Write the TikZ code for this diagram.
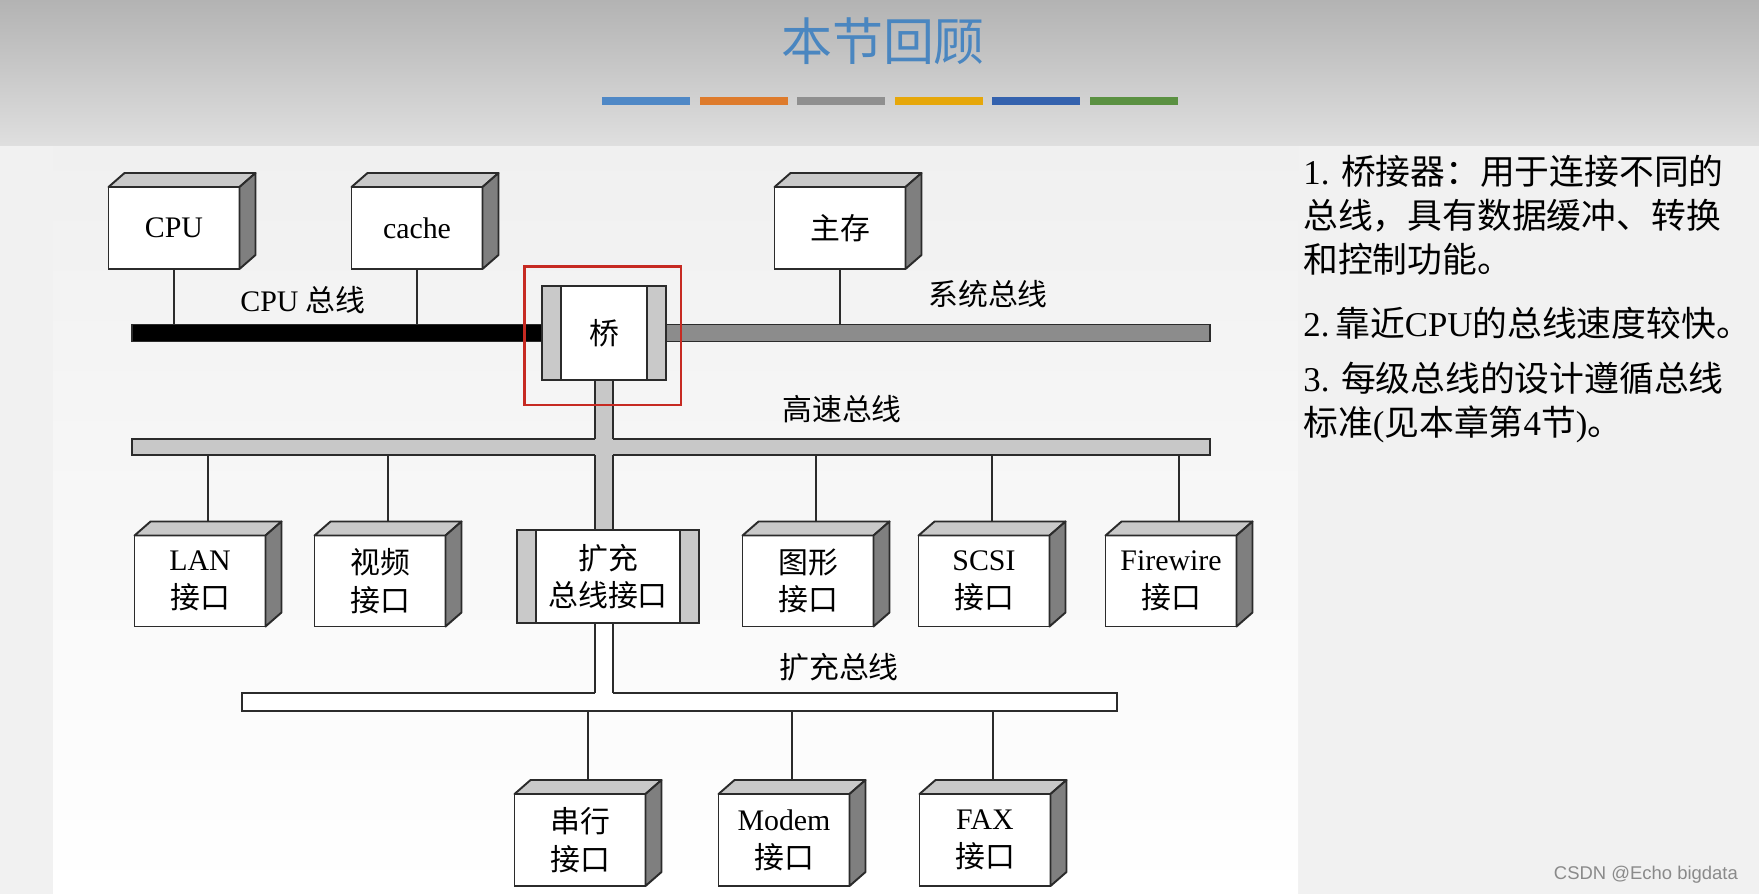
\documentclass[tikz,border=0pt]{standalone}
\usepackage{fontspec}
\setmainfont{Liberation Serif}
\newfontfamily\cjk{Noto Sans CJK SC}
\newfontfamily\wmfont{Liberation Sans}
\usepackage{tikz}
\usetikzlibrary{calc, positioning}

\definecolor{edge}{HTML}{2B2B2B}
\definecolor{topgray}{HTML}{C9C9C9}
\definecolor{sidegray}{HTML}{7F7F7F}
\definecolor{sysgray}{HTML}{8C8C8C}
\definecolor{hsgray}{HTML}{C8C8C8}
\definecolor{framered}{HTML}{C62A22}
\definecolor{titleblue}{HTML}{4A86C0}
\definecolor{bgtop}{HTML}{B3B3B3}
\definecolor{bgmid}{HTML}{DFDFDF}
\definecolor{bglow}{HTML}{F1F1F1}
\definecolor{paneltop}{HTML}{F0F0F0}
\definecolor{wmgray}{HTML}{8A8A8A}
\definecolor{bara}{HTML}{4F88C6}
\definecolor{barb}{HTML}{DE7B2C}
\definecolor{barc}{HTML}{8F8F8F}
\definecolor{bard}{HTML}{E6A70A}
\definecolor{bare}{HTML}{3462AE}
\definecolor{barf}{HTML}{5B9142}

\tikzset{
  devbox/.style={rectangle, draw=edge, line width=1.1pt, fill=white,
    minimum width=2.62cm, minimum height=1.64cm, inner sep=0pt, outer sep=0pt,
    align=center, font=\fontsize{17}{21.5}\selectfont},
  tallbox/.style={devbox, minimum height=1.82cm},
  bridgebox/.style={devbox, minimum width=2.48cm, minimum height=1.88cm},
  bus/.style={rectangle, draw=edge, line width=1.1pt, inner sep=0pt, outer sep=0pt},
  wire/.style={draw=edge, line width=1.1pt},
  buslabel/.style={font=\fontsize{17}{20}\selectfont},
  note/.style={anchor=north west, align=left, inner sep=0pt,
    font=\fontsize{19.8}{25}\selectfont}
}

% top and right face of a box
\newcommand{\boxfaces}[1]{%
  \filldraw[fill=topgray, draw=edge, line width=1.1pt, line join=round]
    (#1.north west) -- ([shift={(16,-14)}]#1.north west)
    -- ([shift={(16,-14)}]#1.north east) -- (#1.north east) -- cycle;
  \filldraw[fill=sidegray, draw=edge, line width=1.1pt, line join=round]
    (#1.north east) -- ([shift={(16,-14)}]#1.north east)
    -- ([shift={(16,-14)}]#1.south east) -- (#1.south east) -- cycle;
}
% gray bands on both sides of a bridge
\newcommand{\sidebands}[1]{%
  \filldraw[fill=topgray, draw=edge, line width=1.1pt]
    (#1.north west) rectangle ([xshift=0.38cm]#1.south west);
  \filldraw[fill=topgray, draw=edge, line width=1.1pt]
    (#1.north east) rectangle ([xshift=-0.38cm]#1.south east);
}

\begin{document}
\begin{tikzpicture}[x=0.02cm, y=-0.02cm]
  \useasboundingbox (0,0) rectangle (1759,894);

  % background
  \shade[top color=bgtop, bottom color=bgmid] (0,0) rectangle (1759,146);
  \fill[bglow] (0,146) rectangle (1759,894);
  \shade[top color=paneltop, bottom color=white] (53,146) rectangle (1298,894);

  \node (title) [font=\cjk\fontsize{29}{32}\selectfont, text=titleblue] at (883,41) {本节回顾};
  \foreach \c [count=\i from 0] in {bara,barb,barc,bard,bare,barf}
    \fill[\c] (602+\i*97.5,97) rectangle +(88,8);

  % top row
  \node (cpu) [devbox] at (174,228) {CPU};
  \node (cache) [devbox] at (417,228) {cache};
  \node (mem) [devbox] at (840,228) {\cjk 主存};
  \node (bridge) [bridgebox] at (604,333) {\cjk 桥};

  \node (cpubus) [bus, fill=black, minimum width=8.2cm, minimum height=0.34cm,
    left=0pt of bridge] {};
  \node (sysbus) [bus, fill=sysgray, minimum width=10.88cm, minimum height=0.34cm,
    right=0pt of bridge] {};
  \sidebands{bridge}

  \node (hsbus) [bus, fill=hsgray, minimum width=21.56cm, minimum height=0.32cm] at (671,447) {};

  % interfaces
  \node (lan) [tallbox] at (200,581) {LAN\\\cjk 接口};
  \node (video) [tallbox] at (380,581) {\cjk 视频\\\cjk 接口};
  \node (xif) [bridgebox, minimum width=3.64cm, minimum height=1.86cm] at (608,576.5)
    {\cjk 扩充\\\cjk 总线接口};
  \sidebands{xif}
  \node (gfx) [tallbox] at (808,581) {\cjk 图形\\\cjk 接口};
  \node (scsi) [tallbox] at (984,581) {SCSI\\\cjk 接口};
  \node (fw) [tallbox] at (1171,581) {Firewire\\\cjk 接口};

  \node (exbus) [bus, fill=white, minimum width=17.5cm, minimum height=0.36cm] at (679.5,702) {};

  \node (serial) [devbox, minimum height=1.84cm] at (580,840) {\cjk 串行\\\cjk 接口};
  \node (modem) [devbox, minimum height=1.84cm] at (784,840) {Modem\\\cjk 接口};
  \node (fax) [devbox, minimum height=1.84cm] at (985,840) {FAX\\\cjk 接口};

  \foreach \n in {cpu,cache,mem,lan,video,gfx,scsi,fw,serial,modem,fax}
    \boxfaces{\n};

  % connections
  \foreach \n in {cpu,cache}
    \draw[wire] (\n.south) -- (\n.south |- cpubus.north);
  \draw[wire] (mem.south) -- (mem.south |- sysbus.north);
  \foreach \n in {lan,video,gfx,scsi,fw}
    \draw[wire] ($(\n.north)+(8,-14)$) -- ($(\n.north |- hsbus.south)+(8,0)$);
  \foreach \n in {serial,modem,fax}
    \draw[wire] ($(\n.north)+(8,-14)$) -- ($(\n.north |- exbus.south)+(8,0)$);

  % bridge down to the high-speed bus and the expansion interface
  \fill[hsgray] ($(bridge.south)+(-9,1)$) rectangle ($(bridge.south |- xif.north)+(9,-1)$);
  \draw[wire] ($(bridge.south)+(-9,0)$) -- ($(bridge.south |- hsbus.north)+(-9,0)$)
    ($(bridge.south)+(9,0)$) -- ($(bridge.south |- hsbus.north)+(9,0)$)
    ($(bridge.south |- hsbus.south)+(-9,0)$) -- ($(bridge.south |- xif.north)+(-9,0)$)
    ($(bridge.south |- hsbus.south)+(9,0)$) -- ($(bridge.south |- xif.north)+(9,0)$);

  % expansion interface down to the expansion bus
  \fill[white] ($(bridge.south |- xif.south)+(-9,1)$) rectangle ($(bridge.south |- exbus.north)+(9,1)$);
  \draw[wire] ($(bridge.south |- xif.south)+(-9,0)$) -- ($(bridge.south |- exbus.north)+(-9,0)$)
    ($(bridge.south |- xif.south)+(9,0)$) -- ($(bridge.south |- exbus.north)+(9,0)$);

  \draw[framered, line width=1.7pt] ($(bridge.north west)+(-18,-20)$) rectangle ($(bridge.south east)+(15,25)$);

  % bus names
  \node (cpubuslbl) [buslabel] at (303,300) {CPU {\cjk 总线}};
  \node (syslbl) [buslabel] at (988,294) {\cjk 系统总线};
  \node (hslbl) [buslabel] at (842,409) {\cjk 高速总线};
  \node (exlbl) [buslabel] at (839,667) {\cjk 扩充总线};

  % notes
  \node (note1) [note] at (1303,155) {1. {\cjk 桥接器：用于连接不同的}\\{\cjk 总线，具有数据缓冲、转换}\\{\cjk 和控制功能。}};
  \node (note2) [note] at (1303,307) {2.\,{\cjk 靠近}CPU{\cjk 的总线速度较快。}};
  \node (note3) [note] at (1303,362) {3. {\cjk 每级总线的设计遵循总线}\\{\cjk 标准}({\cjk 见本章第}4{\cjk 节})\cjk 。};

  \node (wm) [anchor=east, font=\wmfont\fontsize{10.5}{12}\selectfont, text=wmgray] at (1744,875) {CSDN @Echo bigdata};
\end{tikzpicture}
\end{document}
